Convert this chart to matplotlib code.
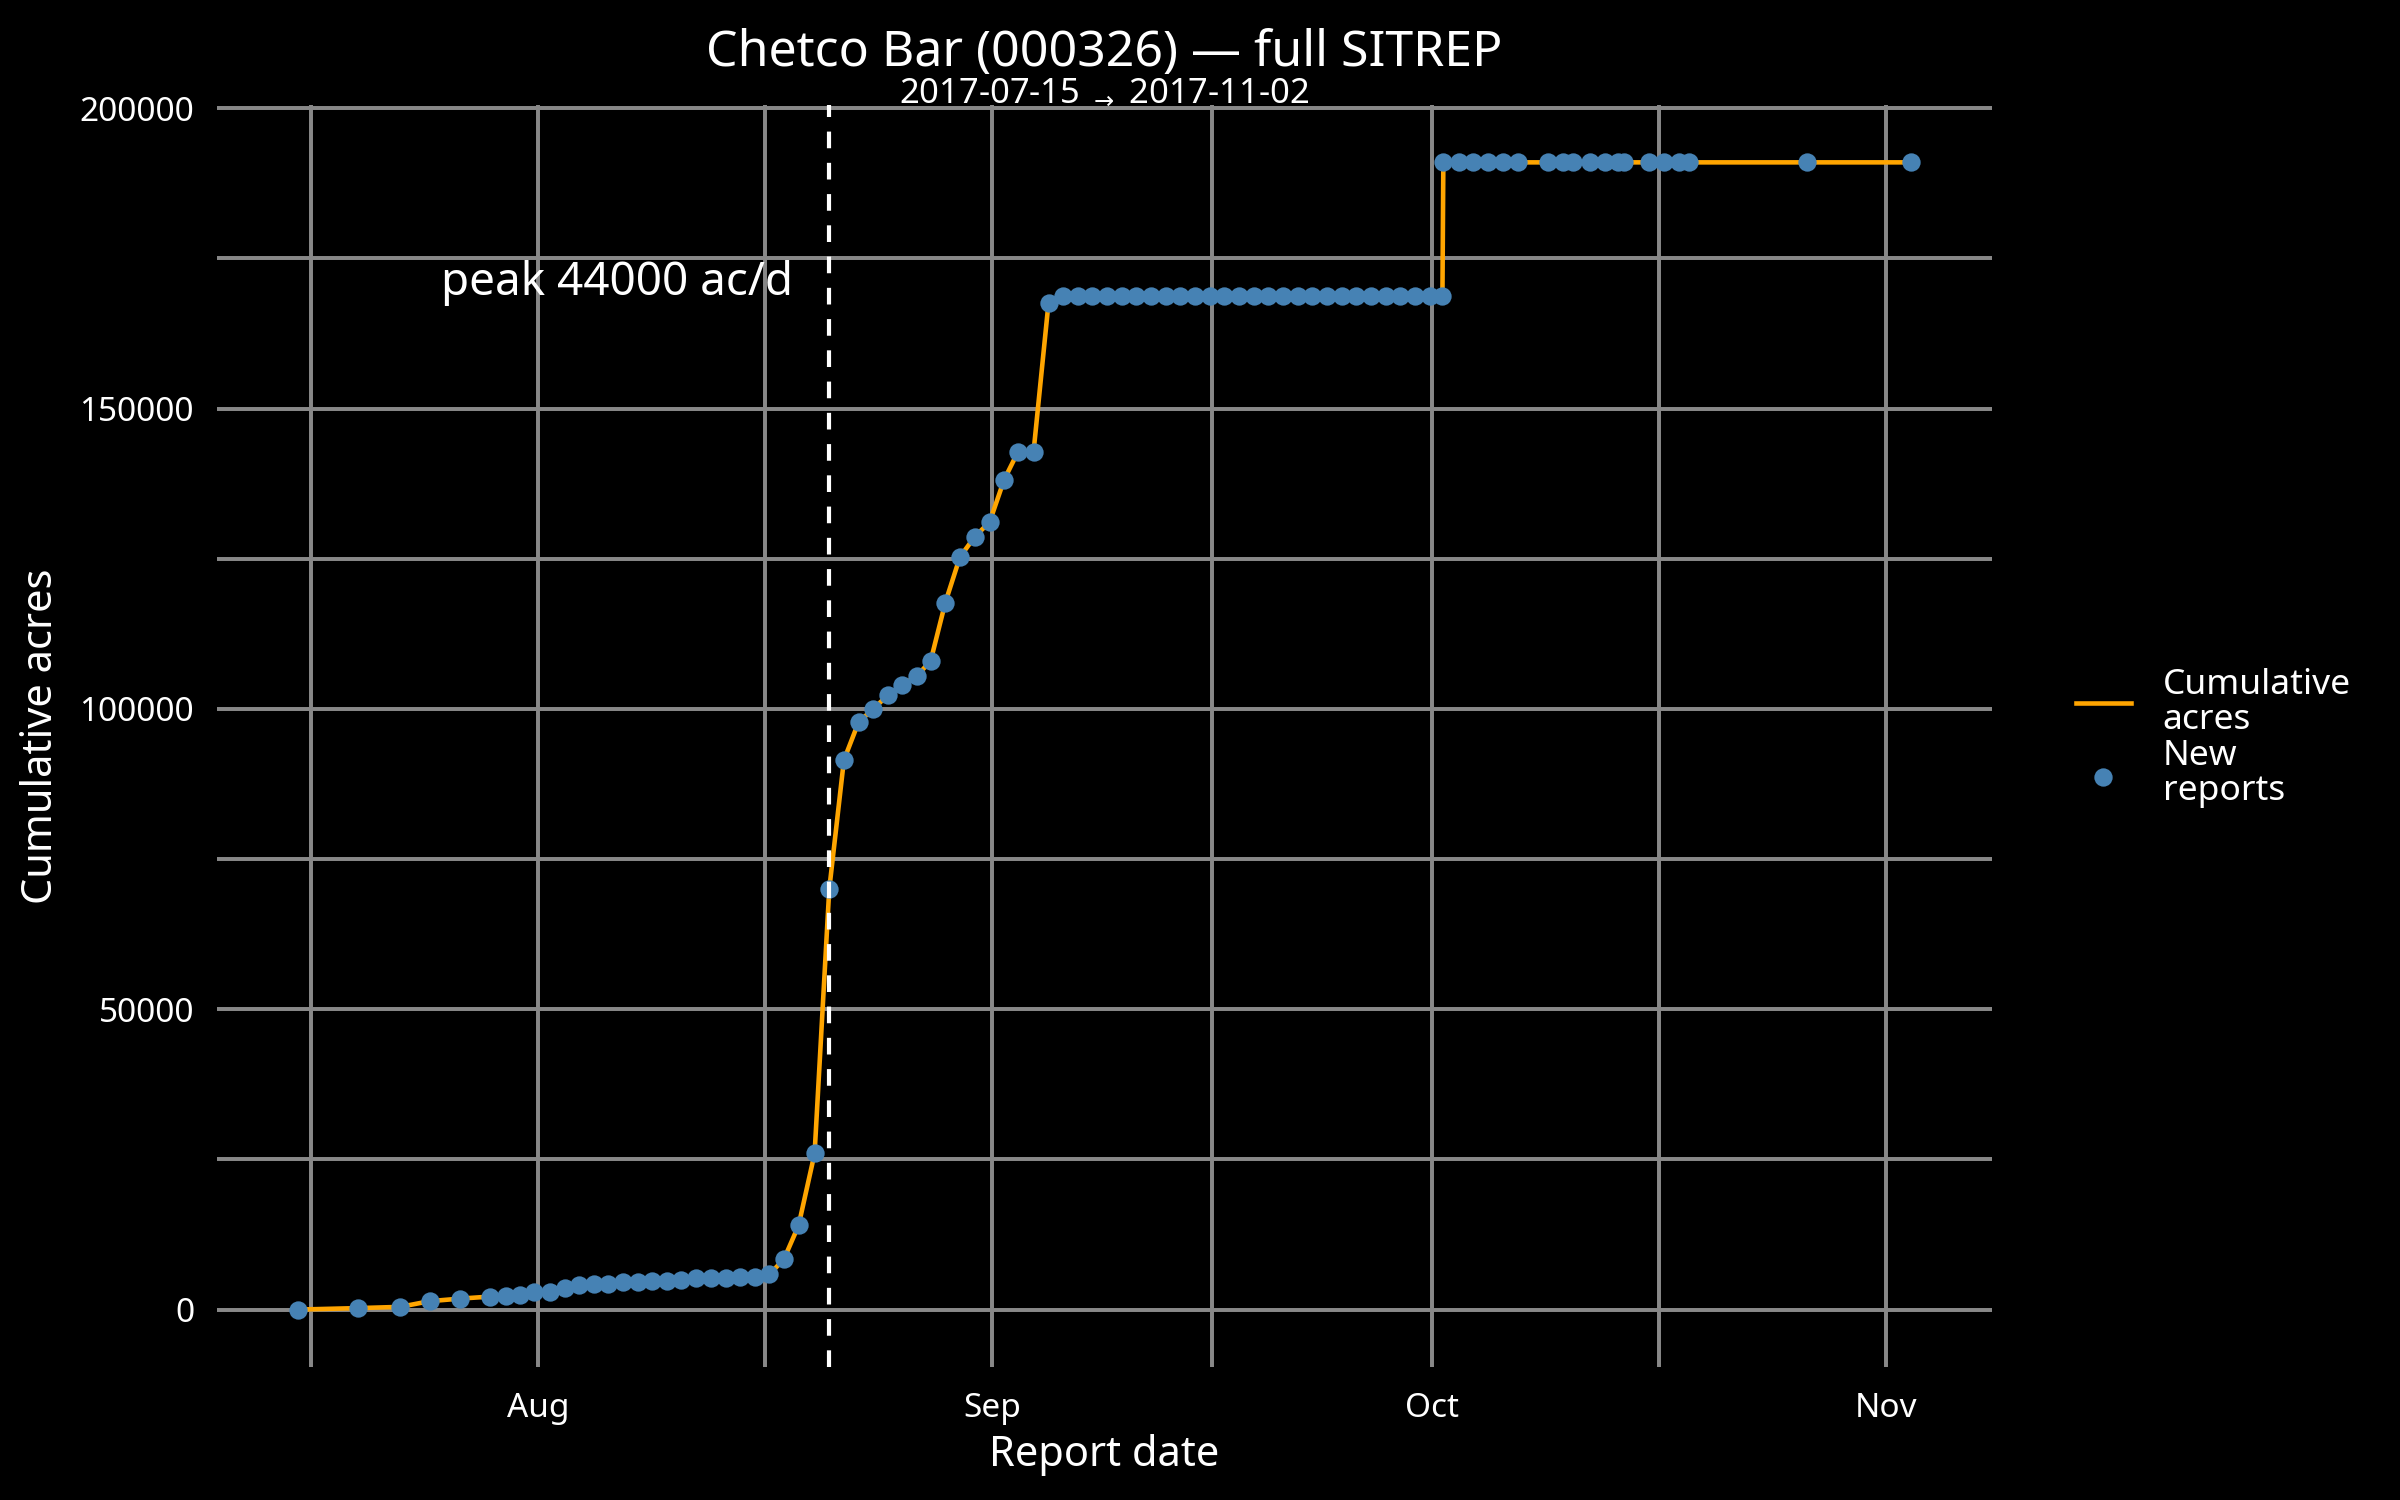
import pandas as pd
import matplotlib
matplotlib.use("Agg")
import matplotlib.pyplot as plt
import matplotlib.dates as mdates
from matplotlib.ticker import MultipleLocator, FixedLocator

# report timestamps (SITREP) and cumulative acres
report_times = [
    "2017-07-15 14:30", "2017-07-19 18:00", "2017-07-22 14:30", "2017-07-24 14:30",
    "2017-07-26 17:00", "2017-07-28 17:00", "2017-07-29 19:00", "2017-07-30 19:00",
    "2017-07-31 18:00", "2017-08-01 19:00", "2017-08-02 20:00", "2017-08-03 19:30",
    "2017-08-04 19:30", "2017-08-05 19:30", "2017-08-06 19:30", "2017-08-07 20:00",
    "2017-08-08 19:30", "2017-08-09 19:00", "2017-08-10 19:00", "2017-08-11 19:00",
    "2017-08-12 19:00", "2017-08-13 20:00", "2017-08-14 19:30", "2017-08-15 19:00",
    "2017-08-16 19:00", "2017-08-17 18:45", "2017-08-18 18:45", "2017-08-19 21:00",
    "2017-08-20 21:00", "2017-08-21 21:00", "2017-08-22 21:00", "2017-08-23 21:00",
    "2017-08-24 21:00", "2017-08-25 20:30", "2017-08-26 20:30", "2017-08-27 19:00",
    "2017-08-28 19:00", "2017-08-29 19:00", "2017-08-30 19:30", "2017-08-31 19:30",
    "2017-09-01 19:30", "2017-09-02 18:00", "2017-09-03 19:30", "2017-09-04 20:00",
    "2017-09-05 20:00", "2017-09-06 20:00", "2017-09-07 20:00", "2017-09-08 20:00",
    "2017-09-09 20:00", "2017-09-10 20:00", "2017-09-11 20:00", "2017-09-12 20:00",
    "2017-09-13 20:00", "2017-09-14 20:00", "2017-09-15 20:00", "2017-09-16 20:00",
    "2017-09-17 20:00", "2017-09-18 20:00", "2017-09-19 20:00", "2017-09-20 20:00",
    "2017-09-21 20:00", "2017-09-22 20:00", "2017-09-23 20:00", "2017-09-24 20:00",
    "2017-09-25 20:00", "2017-09-26 20:00", "2017-09-27 20:00", "2017-09-28 20:00",
    "2017-09-29 20:00", "2017-09-30 20:00", "2017-10-01 17:00",
    "2017-10-01 18:30", "2017-10-02 20:00", "2017-10-03 18:30", "2017-10-04 19:00",
    "2017-10-05 19:45", "2017-10-06 21:00", "2017-10-08 21:15", "2017-10-09 21:45",
    "2017-10-10 15:30", "2017-10-11 18:45", "2017-10-12 19:15", "2017-10-13 16:00",
    "2017-10-14 03:00", "2017-10-15 19:45", "2017-10-16 20:15", "2017-10-17 21:00",
    "2017-10-18 12:00", "2017-10-26 13:15", "2017-11-02 16:00",
]
cum_acres = [
    0, 250, 450, 1400,
    1830, 2160, 2220, 2440,
    2850, 2900, 3600, 4100,
    4200, 4270, 4550, 4560,
    4720, 4830, 5000, 5220,
    5230, 5330, 5440, 5490,
    5850, 8400, 14000, 26000,
    70000, 91500, 97800, 100000,
    102300, 104000, 105500, 108000,
    117700, 125300, 128700, 131100,
    138200, 142800, 142800, 167600,
    168700, 168700, 168700, 168700,
    168700, 168700, 168700, 168700,
    168700, 168700, 168700, 168700,
    168700, 168700, 168700, 168700,
    168700, 168700, 168700, 168700,
    168700, 168700, 168700, 168700,
    168700, 168700, 168700,
    191000, 191000, 191000, 191000,
    191000, 191000, 191000, 191000,
    191000, 191000, 191000, 191000,
    191000, 191000, 191000, 191000,
    191000, 191000, 191000,
]

title = "Chetco Bar (000326) \u2014 full SITREP"

dates = pd.to_datetime(report_times)
acres = pd.Series(cum_acres, index=dates)
start_txt = f"{dates.min():%Y-%m-%d}"
end_txt = f"{dates.max():%Y-%m-%d}"

# biggest jump between two reports
growth = acres.diff()
peak_date = growth.idxmax()
peak_val = growth.max()

plt.rcParams['font.family'] = ['Noto Sans', 'DejaVu Sans']

fig = plt.figure(figsize=(8, 5), dpi=300, facecolor='black')
ax = fig.add_axes([0.0904, 0.0887, 0.7394, 0.8413])
ax.set_facecolor('black')

ax.plot(dates, cum_acres, color='orange', lw=1.1, zorder=3, label='Cumulative\nacres')
ax.scatter(dates, cum_acres, s=4.4 ** 2, color='steelblue', linewidths=0, zorder=4,
           label='New\nreports')
ax.axvline(peak_date, color='white', lw=1.0, ls=(0, (4, 3.5)), zorder=5)
ax.text(mdates.date2num(peak_date) - 14.5, 0.9 * max(cum_acres),
        f"peak {peak_val:.0f} ac/d", ha='center', va='center_baseline',
        fontsize=11, color='white')

ax.margins(x=0.05, y=0.05)

# grid: months as major, midpoints as minor
ax.xaxis.set_major_locator(mdates.MonthLocator())
ax.xaxis.set_major_formatter(mdates.DateFormatter('%b'))
month_starts = mdates.date2num(pd.date_range("2017-07-01", "2017-12-01", freq="MS"))
mids = (month_starts[:-1] + month_starts[1:]) / 2
ax.xaxis.set_minor_locator(FixedLocator(mids))
ax.yaxis.set_major_locator(MultipleLocator(50000))
ax.yaxis.set_minor_locator(MultipleLocator(25000))

ax.grid(True, which='both', color='#888888', lw=0.95, zorder=0)
ax.set_axisbelow(True)
for s in ax.spines.values():
    s.set_visible(False)
ax.tick_params(which='both', length=0, colors='white', labelsize=8)
ax.tick_params(axis='x', pad=6)
ax.tick_params(axis='y', pad=5.5)

ax.set_xlabel("Report date", color='white', fontsize=10, va='center')
ax.xaxis.set_label_coords(0.5, -0.0695)
ax.set_ylabel("Cumulative acres", color='white', fontsize=10, va='center')
ax.yaxis.set_label_coords(-0.0993, 0.5)

# title + subtitle (subtitle arrow is drawn smaller, as in the source)
cx = 0.0904 + 0.7394 / 2
fig.text(cx, 0.965, title, ha='center', va='center', fontsize=12, color='white')
fig.text(cx, 0.9385, f"{start_txt} $_{{\\rightarrow}}$ {end_txt}", ha='center',
         va='center', fontsize=8.3, color='white')

leg = ax.legend(loc='center left', bbox_to_anchor=(2076 / 2400, 0.508),
                bbox_transform=fig.transFigure, frameon=False, borderpad=0,
                borderaxespad=0, handlelength=1.55, handletextpad=0.9,
                labelspacing=0.05, fontsize=8.5, labelcolor='white', scatterpoints=1)
for t in leg.get_texts():
    t.set_linespacing(1.05)

fig.savefig("out.png", dpi=300, facecolor='black')
